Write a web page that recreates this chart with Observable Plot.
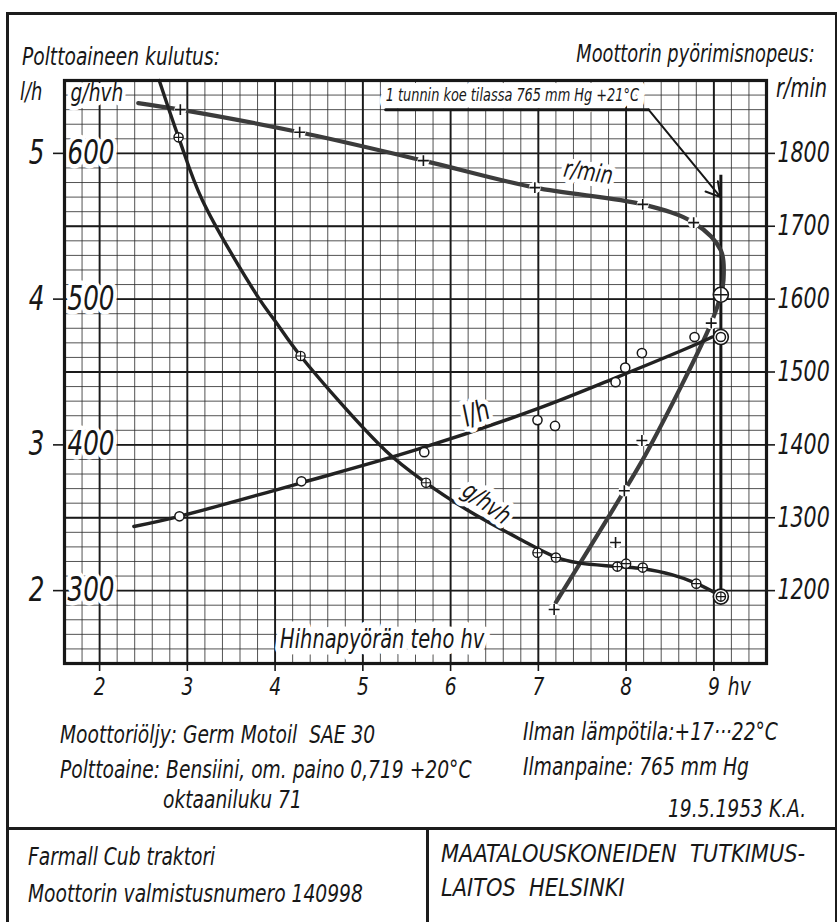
<!DOCTYPE html>
<html>
<head>
<meta charset="utf-8">
<script src="https://cdn.jsdelivr.net/npm/d3@7"></script>
<script src="https://cdn.jsdelivr.net/npm/@observablehq/plot@0.6"></script>
<style>
  html, body { margin: 0; padding: 0; background: #fff; }
  #page { position: relative; width: 838px; height: 922px; overflow: hidden; background: #fff; color: #171717; }
  #page svg { position: absolute; left: 0; top: 0; }
  .t { position: absolute; white-space: pre; line-height: 1; font-style: italic; }
  .ln { position: absolute; background: #1c1c1c; }
</style>
</head>
<body>
<div id="page"></div>
<script>
// ---------------- DATA ----------------
// x: Hihnapyörän teho, hv
const xTicks   = [2, 3, 4, 5, 6, 7, 8, 9];
const lhTicks  = [2, 3, 4, 5];                 // l/h
const ghTicks  = [300, 400, 500, 600];         // g/hvh
const rpmTicks = [1200, 1300, 1400, 1500, 1600, 1700, 1800]; // r/min

// Fuel consumption l/h — drawn curve and measured points (open circles)
const lhLineHv   = [2.39, 2.91, 4.30, 5.63, 7.00, 7.88, 8.80, 8.98];
const lhLineVal  = [2.44, 2.51, 2.74, 2.97, 3.25, 3.46, 3.69, 3.74];
const lhPointHv  = [2.91, 4.30, 5.70, 6.99, 7.19, 7.88, 7.99, 8.18, 8.78];
const lhPointVal = [2.51, 2.75, 2.95, 3.17, 3.13, 3.43, 3.53, 3.63, 3.74];

// Specific consumption g/hvh — curve and measured points (circled plus)
const ghLineHv   = [2.68, 2.90, 3.17, 3.81, 4.00, 4.29, 5.26, 5.72, 6.20, 6.77, 7.20, 7.46, 7.90, 8.19, 8.52, 8.80, 9.03];
const ghLineVal  = [650, 611, 568, 501, 485, 461, 396, 374, 355, 336, 323, 319, 316.5, 315, 311, 305, 298];
const ghPointHv  = [2.90, 4.29, 5.72, 6.99, 7.20, 7.90, 8.00, 8.19, 8.80];
const ghPointVal = [611, 461, 374, 326, 322.7, 316.5, 318.5, 315.8, 304.8];

// Engine speed r/min — curve and measured points (plus signs)
const rpmLineHv   = [2.44, 2.92, 4.28, 5.69, 6.96, 8.19, 8.77, 9.08, 9.11, 9.08, 8.97, 8.26, 7.98, 7.20];
const rpmLineVal  = [1869, 1860, 1829, 1790, 1753, 1730, 1705, 1667, 1626, 1606, 1567, 1395, 1337, 1184];
const rpmPointHv  = [2.92, 4.28, 5.69, 6.96, 8.19, 8.77, 8.97, 8.18, 7.98, 7.88, 7.18];
const rpmPointVal = [1860, 1829, 1790, 1753, 1730, 1705, 1567, 1406, 1337, 1266, 1174];

// 1 hour test (double-ringed points)
const testHv  = [9.08];
const testLh  = [3.74];
const testGh  = [295.9];
const testRpm = [1606];

// Texts
const noteText   = "1 tunnin koe tilassa 765 mm Hg +21°C";
const xTitle     = "Hihnapyörän teho hv";
const curveNames = ["r/min", "l/h", "g/hvh"];

// ---------------- helpers ----------------
const ghToLh  = g => 2 + (g - 300) / 100;    // 300 g/hvh ↔ 2 l/h, 600 ↔ 5
const rpmToLh = r => 2 + (r - 1200) / 200;   // 1200 r/min ↔ 2 l/h, 1800 ↔ 5
const lhToRpm = v => String(Math.round(1200 + (v - 2) * 200));

const FONT = `"DejaVu Sans Condensed", "DejaVu Sans", sans-serif`;
const SQUEEZE = 0.83;   // lettering is narrower than the available fonts
const INK = "#171717";

const lhLine   = lhLineHv.map((hv, i) => ({hv, v: lhLineVal[i]}));
const lhPts    = lhPointHv.map((hv, i) => ({hv, v: lhPointVal[i]}));
const ghLine   = ghLineHv.map((hv, i) => ({hv, v: ghToLh(ghLineVal[i])}));
const ghPts    = ghPointHv.map((hv, i) => ({hv, v: ghToLh(ghPointVal[i])}));
const rpmLine  = rpmLineHv.map((hv, i) => ({hv, v: rpmToLh(rpmLineVal[i])}));
const rpmPts   = rpmPointHv.map((hv, i) => ({hv, v: rpmToLh(rpmPointVal[i])}));
const testLhPt  = testHv.map((hv, i) => ({hv, v: testLh[i]}));
const testGhPt  = testHv.map((hv, i) => ({hv, v: ghToLh(testGh[i])}));
const testRpmPt = testHv.map((hv, i) => ({hv, v: rpmToLh(testRpm[i])}));

const minorX = d3.range(16, 97, 2).map(d => d / 10);
const minorY = d3.range(15, 56, 1).map(d => d / 10);
const majorY = d3.range(15, 56, 5).map(d => d / 10);

const halo = {stroke: "white", strokeWidth: 8, paintOrder: "stroke", strokeLinejoin: "round", fill: INK};

// annotation geometry (in chart units)
const noteAt    = {hv: 5.26, v: 5.40};
const underline = [{hv: 5.26, v: 5.30}, {hv: 8.256, v: 5.30}];
const arrowSeg  = [{x1: 8.256, y1: 5.30, x2: 9.076, y2: 4.70}];
const testRuleTop = 4.85;
const labels = [
  {t: curveNames[0], hv: 7.57, v: 4.87, rot: 9,   size: 25},
  {t: curveNames[1], hv: 6.29, v: 3.215, rot: -20, size: 29},
  {t: curveNames[2], hv: 6.41, v: 2.60, rot: 36,  size: 25}
];

const chart = Plot.plot({
  width: 838,
  height: 700,
  marginLeft: 64,
  marginRight: 72,
  marginTop: 80,
  marginBottom: 37,
  x: {domain: [1.6, 9.6]},
  y: {domain: [1.5, 5.5]},
  style: {fontFamily: FONT, fontStyle: "italic", color: INK, background: "transparent", overflow: "visible"},
  marks: [
    // grid paper
    Plot.gridX(minorX, {stroke: "#2a2a2a", strokeOpacity: 0.9, strokeWidth: 0.9}),
    Plot.gridY(minorY, {stroke: "#2a2a2a", strokeOpacity: 0.9, strokeWidth: 0.9}),
    Plot.gridX(xTicks, {stroke: "#1a1a1a", strokeOpacity: 1, strokeWidth: 1.9}),
    Plot.gridY(majorY, {stroke: "#1a1a1a", strokeOpacity: 1, strokeWidth: 1.9}),

    // annotation: one hour test
    Plot.text([noteText], {x: () => noteAt.hv, y: () => noteAt.v, text: d => d, textAnchor: "start", fontSize: 17.3, ...halo, strokeWidth: 16}),
    Plot.line(underline, {x: "hv", y: "v", stroke: INK, strokeWidth: 3}),
    Plot.arrow(arrowSeg, {x1: "x1", y1: "y1", x2: "x2", y2: "y2", stroke: INK, strokeWidth: 2, headLength: 12, bend: 0}),
    Plot.ruleX(testHv, {x: d => d, y1: () => testRuleTop, y2: () => ghToLh(testGh[0]), stroke: INK, strokeWidth: 3}),

    // curves
    Plot.line(rpmLine, {x: "hv", y: "v", curve: "catmull-rom", stroke: "#3c3c3c", strokeWidth: 4.2}),
    Plot.line(ghLine, {x: "hv", y: "v", curve: "catmull-rom", stroke: "#222", strokeWidth: 3.4}),
    Plot.line(lhLine, {x: "hv", y: "v", curve: "catmull-rom", stroke: "#222", strokeWidth: 3.4}),

    // r/min points: plus signs sitting in gaps of the dashed line
    Plot.dot(rpmPts, {x: "hv", y: "v", r: 6, fill: "white", stroke: null}),
    Plot.dot(rpmPts, {x: "hv", y: "v", symbol: "plus", r: 3.6, stroke: INK, strokeWidth: 1.6}),

    // l/h points: open circles
    Plot.dot(lhPts, {x: "hv", y: "v", r: 4.6, fill: "white", stroke: INK, strokeWidth: 1.5}),
    // g/hvh points: circled plus
    Plot.dot(ghPts, {x: "hv", y: "v", r: 4.6, fill: "white", stroke: INK, strokeWidth: 1.4}),
    Plot.dot(ghPts, {x: "hv", y: "v", symbol: "plus", r: 3.0, stroke: INK, strokeWidth: 1.1}),

    // 1 hour test points
    Plot.dot(testLhPt, {x: "hv", y: "v", r: 7.5, fill: "white", stroke: INK, strokeWidth: 1.6}),
    Plot.dot(testLhPt, {x: "hv", y: "v", r: 4.6, fill: "white", stroke: INK, strokeWidth: 1.5}),
    Plot.dot(testGhPt, {x: "hv", y: "v", r: 7.5, fill: "white", stroke: INK, strokeWidth: 1.6}),
    Plot.dot(testGhPt, {x: "hv", y: "v", r: 4.6, fill: "white", stroke: INK, strokeWidth: 1.4}),
    Plot.dot(testGhPt, {x: "hv", y: "v", symbol: "plus", r: 3.0, stroke: INK, strokeWidth: 1.1}),
    Plot.dot(testRpmPt, {x: "hv", y: "v", r: 7.5, fill: "white", stroke: INK, strokeWidth: 1.6}),
    Plot.dot(testRpmPt, {x: "hv", y: "v", symbol: "plus", r: 4.4, stroke: INK, strokeWidth: 1.4}),

    // curve labels
    Plot.text(labels, {x: "hv", y: "v", text: "t", rotate: "rot", fontSize: "size", ...halo, strokeWidth: 10}),

    // g/hvh tick labels inside frame and header
    Plot.text(ghTicks, {frameAnchor: "left", y: g => ghToLh(g), text: d => String(d), textAnchor: "start", dx: 3, fontSize: 33, ...halo, strokeWidth: 9}),
    Plot.text(["g/hvh"], {frameAnchor: "top-left", text: d => d, dx: 6, dy: 3, fontSize: 25, ...halo, strokeWidth: 9}),
    // x title inside frame
    Plot.text([xTitle], {frameAnchor: "bottom", x: () => 5.22, text: d => d, dy: -16, fontSize: 26, ...halo, strokeWidth: 13}),

    // axes
    Plot.axisX(xTicks, {anchor: "bottom", tickSize: 8, tickPadding: 6, fontSize: 25, strokeWidth: 1.6, label: null, tickFormat: d => String(d)}),
    Plot.text(["hv"], {frameAnchor: "bottom", x: () => 9, text: d => d, textAnchor: "start", lineAnchor: "top", dx: 14, dy: 14, fontSize: 25, fill: INK}),
    Plot.axisY(lhTicks, {anchor: "left", tickSize: 11, tickPadding: 9, fontSize: 33, strokeWidth: 1.6, label: null, tickFormat: d => String(d)}),
    Plot.axisY(rpmTicks.map(rpmToLh), {anchor: "right", tickSize: 8, tickPadding: 3, fontSize: 27.5, strokeWidth: 1.6, label: null, tickFormat: lhToRpm}),

    Plot.frame({stroke: INK, strokeWidth: 3.2})
  ]
});

// narrow the lettering horizontally around each text's own anchor
chart.querySelectorAll("text").forEach(t => {
  const tr = t.getAttribute("transform") || "";
  t.setAttribute("transform", `${tr} scale(${SQUEEZE},1)`);
});

const page = document.getElementById("page");
page.appendChild(chart);

// ---------------- texts & drawing frame around the chart ----------------
const pageTexts = [
  {s: "Polttoaineen kulutus:", x: 22, b: 65, f: 25},
  {s: "Moottorin pyörimisnopeus:", x: 815, b: 62, f: 25, end: true, k: 0.79},
  {s: "l/h", x: 20, b: 100, f: 24},
  {s: "r/min", x: 776, b: 97, f: 26},
  {s: "Moottoriöljy: Germ Motoil  SAE 30", x: 60, b: 743, f: 25},
  {s: "Polttoaine: Bensiini, om. paino 0,719 +20°C", x: 60, b: 778, f: 25},
  {s: "oktaaniluku 71", x: 163, b: 808, f: 25},
  {s: "Ilman lämpötila:+17···22°C", x: 523, b: 740, f: 25},
  {s: "Ilmanpaine: 765 mm Hg", x: 523, b: 775, f: 25},
  {s: "19.5.1953 K.A.", x: 668, b: 817, f: 25},
  {s: "Farmall Cub traktori", x: 28, b: 865, f: 25},
  {s: "Moottorin valmistusnumero 140998", x: 28, b: 902, f: 25},
  {s: "MAATALOUSKONEIDEN  TUTKIMUS-", x: 441, b: 862, f: 24, k: 0.97},
  {s: "LAITOS  HELSINKI", x: 441, b: 896, f: 24, k: 0.97}
];
for (const d of pageTexts) {
  const el = document.createElement("div");
  el.className = "t";
  el.textContent = d.s;
  el.style.fontFamily = FONT;
  el.style.fontSize = d.f + "px";
  el.style.top = (d.b - 0.846 * d.f) + "px";
  if (d.end) {
    el.style.right = (838 - d.x) + "px";
    el.style.transformOrigin = "right center";
  } else {
    el.style.left = d.x + "px";
    el.style.transformOrigin = "left center";
  }
  el.style.transform = `scaleX(${d.k || SQUEEZE})`;
  page.appendChild(el);
}
const rules = [
  {x: 6, y: 12, w: 831, h: 2.5},     // top border
  {x: 6, y: 12, w: 2.5, h: 910},     // left border
  {x: 834.5, y: 12, w: 2.5, h: 910}, // right border
  {x: 6, y: 827, w: 831, h: 2.5},    // separator
  {x: 426, y: 827, w: 2.5, h: 95}    // divider
];
for (const r of rules) {
  const el = document.createElement("div");
  el.className = "ln";
  Object.assign(el.style, {left: r.x + "px", top: r.y + "px", width: r.w + "px", height: r.h + "px"});
  page.appendChild(el);
}
</script>
</body>
</html>
